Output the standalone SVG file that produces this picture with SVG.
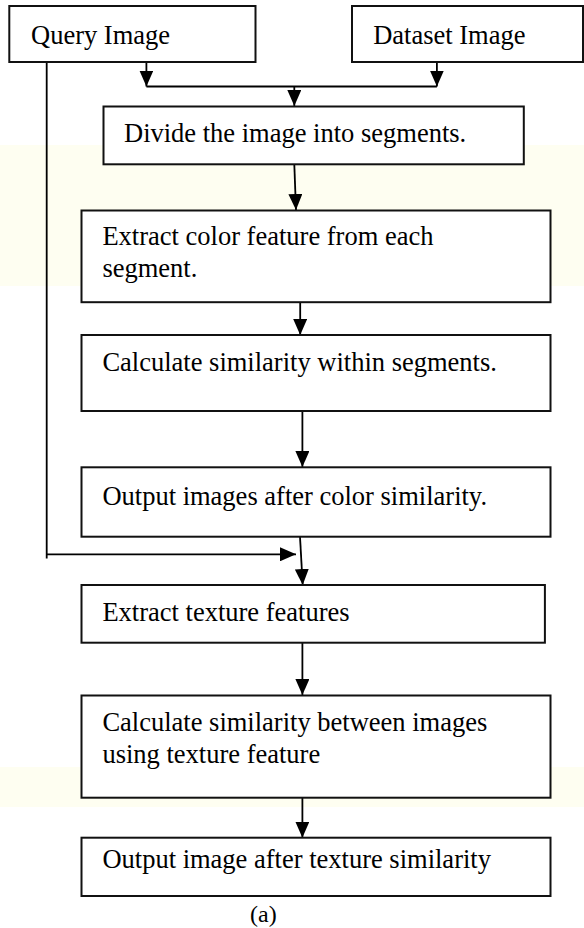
<svg xmlns="http://www.w3.org/2000/svg" width="584" height="928" viewBox="0 0 584 928">
  <style>
    .box { fill: #ffffff; stroke: #111111; stroke-width: 2; }
    .lbl { font-family: "Liberation Serif", "Times New Roman", serif; font-size: 26.5px; fill: #000000; }
    .wire { fill: none; stroke: #000000; stroke-width: 1.8; }
  </style>
  <defs>
    <marker id="head" viewBox="0 0 16 14" refX="16" refY="7" markerWidth="16" markerHeight="14" markerUnits="userSpaceOnUse" orient="auto">
      <path d="M0,0 L16,7 L0,14 Z" fill="#000000"/>
    </marker>
  </defs>

  <rect x="0" y="0" width="584" height="928" fill="#ffffff"/>
  <!-- pale tinted bands behind the chart -->
  <rect x="0" y="145" width="584" height="141" fill="#fefef1"/>
  <rect x="0" y="767" width="584" height="40" fill="#fefef1"/>

  <g id="connectors">
    <line class="wire" x1="46.7" y1="62" x2="46.7" y2="558.5"/>
    <line class="wire" x1="146.4" y1="62" x2="146.4" y2="86.5" marker-end="url(#head)"/>
    <line class="wire" x1="436.9" y1="62" x2="436.9" y2="86.5" marker-end="url(#head)"/>
    <line class="wire" x1="146.4" y1="86.5" x2="436.9" y2="86.5"/>
    <line class="wire" x1="294.3" y1="86.5" x2="294.3" y2="106" marker-end="url(#head)"/>
    <line class="wire" x1="294.3" y1="164.3" x2="296" y2="210" marker-end="url(#head)"/>
    <line class="wire" x1="300.2" y1="299" x2="300.2" y2="335" marker-end="url(#head)"/>
    <line class="wire" x1="302.4" y1="411" x2="302.4" y2="467" marker-end="url(#head)"/>
    <line class="wire" x1="46.7" y1="554.3" x2="296" y2="554.3" marker-end="url(#head)"/>
    <line class="wire" x1="300" y1="536.7" x2="302.7" y2="585" marker-end="url(#head)"/>
    <line class="wire" x1="302.4" y1="642.7" x2="302.4" y2="695" marker-end="url(#head)"/>
    <line class="wire" x1="302.4" y1="797.7" x2="302.4" y2="837.7" marker-end="url(#head)"/>
  </g>

  <g id="query-image">
    <rect class="box" x="9.3" y="6" width="246.2" height="56"/>
    <text class="lbl" x="31" y="44.3">Query Image</text>
  </g>
  <g id="dataset-image">
    <rect class="box" x="352" y="6" width="231" height="56"/>
    <text class="lbl" x="373.2" y="44.3">Dataset Image</text>
  </g>
  <g id="divide">
    <rect class="box" x="103.5" y="106.5" width="420.3" height="57.8"/>
    <text class="lbl" x="124" y="141.7">Divide the image into segments.</text>
  </g>
  <g id="extract-color">
    <rect class="box" x="81.5" y="210.5" width="469" height="91.7"/>
    <text class="lbl" x="102.4" y="245.3">Extract color feature from each</text>
    <text class="lbl" x="102.4" y="276.5">segment.</text>
  </g>
  <g id="similarity-within">
    <rect class="box" x="81.5" y="335" width="469" height="76"/>
    <text class="lbl" x="102.4" y="370.8">Calculate similarity within segments.</text>
  </g>
  <g id="output-color">
    <rect class="box" x="81.5" y="467.3" width="469" height="69.4"/>
    <text class="lbl" x="102.4" y="505">Output images after color similarity.</text>
  </g>
  <g id="extract-texture">
    <rect class="box" x="81.5" y="585" width="463.4" height="57.7"/>
    <text class="lbl" x="102.4" y="621">Extract texture features</text>
  </g>
  <g id="similarity-between">
    <rect class="box" x="81.5" y="695.5" width="469" height="102.2"/>
    <text class="lbl" x="102.4" y="731">Calculate similarity between images</text>
    <text class="lbl" x="102.4" y="762.5">using texture feature</text>
  </g>
  <g id="output-texture">
    <rect class="box" x="81.5" y="837.7" width="469" height="58.3"/>
    <text class="lbl" x="102.4" y="867.5">Output image after texture similarity</text>
  </g>
  <text class="lbl" x="250" y="921.7" style="font-size:24px">(a)</text>
</svg>
